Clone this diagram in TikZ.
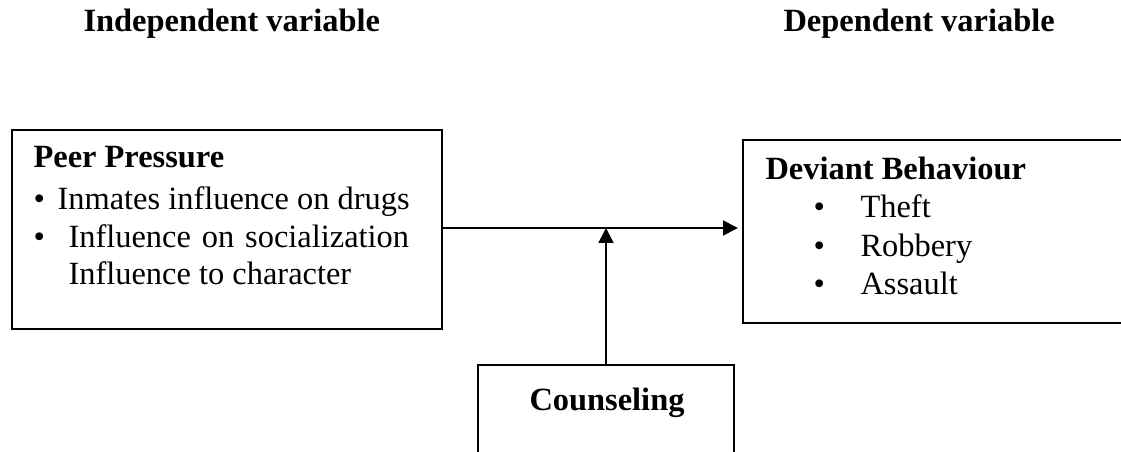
\documentclass[tikz,border=0pt]{standalone}
\usepackage{fontspec}
\setmainfont{Liberation Serif}
\usetikzlibrary{arrows.meta}
\begin{document}
\begin{tikzpicture}[x=0.37pt,y=-0.37pt,
  box/.style={draw,line width=0.75pt,rectangle,inner sep=0pt},
  txt/.style={anchor=base west,inner sep=0pt,font=\fontsize{12}{14}\selectfont},
  btxt/.style={txt,font=\fontsize{12}{14}\selectfont\bfseries},
  conn/.style={line width=0.75pt,-{Triangle[length=5.5pt,width=5.5pt]}}]
\clip (0,0) rectangle (1121,452);
\fill[white] (0,0) rectangle (1121,452);
% headings
\node[btxt] (hind) at (83,32) {Independent variable};
\node[btxt] (hdep) at (783,32) {Dependent variable};
% boxes
\node[box,minimum width={430*0.37pt},minimum height={199*0.37pt}] (pp) at (227,229.5) {};
\node[box,minimum width={392*0.37pt},minimum height={183*0.37pt}] (db) at (939,231.5) {};
\node[box,minimum width={256*0.37pt},minimum height={105*0.37pt}] (cs) at (606,417.5) {};
% left box text
\node[btxt] (pptitle) at (33,168) {Peer Pressure};
\node[txt] (ppb1) at (33,210) {\textbullet};
\node[txt] (ppt1) at (57,210) {Inmates influence on drugs};
\node[txt] (ppb2) at (33,248) {\textbullet};
\node[txt] (ppt2) at (68,248) {\makebox[126pt][s]{Influence on socialization}};
\node[txt] (ppt3) at (68,285) {Influence to character};
% right box text
\node[btxt] (dbtitle) at (765,180) {Deviant Behaviour};
\node[txt] (dbb1) at (813,218) {\textbullet};
\node[txt] (dbt1) at (860,218) {Theft};
\node[txt] (dbb2) at (813,257) {\textbullet};
\node[txt] (dbt2) at (860,257) {Robbery};
\node[txt] (dbb3) at (813,295) {\textbullet};
\node[txt] (dbt3) at (860,295) {Assault};
% counseling text
\node[btxt,anchor=base] (cstitle) at (607,410) {Counseling};
% connectors
\coordinate (ya) at (0,228);
\coordinate (mid) at (cs.north |- ya);
\draw[conn] (pp.east |- ya) -- ([xshift=-1.5pt]db.west |- ya);
\draw[conn] (cs.north) -- (mid);
\end{tikzpicture}
\end{document}
